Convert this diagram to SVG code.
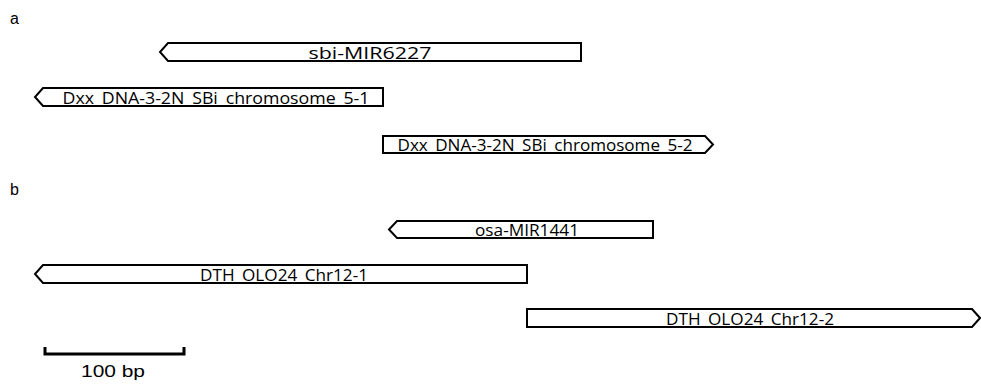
<svg xmlns="http://www.w3.org/2000/svg" width="981" height="385" viewBox="0 0 981 385">
<style>
.box{fill:#fff;stroke:#000;stroke-width:2}
.lbl{font-family:"Open Sans","Liberation Sans",sans-serif;font-size:17px;fill:#000;text-anchor:middle}
.pl{font-family:"Liberation Sans",Arial,sans-serif;font-size:16px;fill:#000}
</style>
<rect width="981" height="385" fill="#fff"/>
<text class="pl" x="10" y="24">a</text>
<text class="pl" x="10" y="195">b</text>
<g id="sbi-MIR6227">
<polygon class="box" points="168,43 581,43 581,61 168,61 160,52"/>
<text class="lbl" x="370" y="59" textLength="123" lengthAdjust="spacingAndGlyphs">sbi-MIR6227</text>
</g>
<g id="dxx-5-1">
<polygon class="box" points="43,88 383,88 383,106 43,106 35,97"/>
<text class="lbl" x="216" y="104" textLength="307" lengthAdjust="spacingAndGlyphs">Dxx_DNA-3-2N_SBi_chromosome_5-1</text>
</g>
<g id="dxx-5-2">
<polygon class="box" points="383,136 705,136 713,144.5 705,153 383,153"/>
<text class="lbl" x="545" y="151" textLength="295" lengthAdjust="spacingAndGlyphs">Dxx_DNA-3-2N_SBi_chromosome_5-2</text>
</g>
<g id="osa-MIR1441">
<polygon class="box" points="397,221 653,221 653,238 397,238 389,229.5"/>
<text class="lbl" x="527" y="236" textLength="104" lengthAdjust="spacingAndGlyphs">osa-MIR1441</text>
</g>
<g id="dth-1">
<polygon class="box" points="43,265 527,265 527,283 43,283 35,274"/>
<text class="lbl" x="284" y="281" textLength="168" lengthAdjust="spacingAndGlyphs">DTH_OLO24_Chr12-1</text>
</g>
<g id="dth-2">
<polygon class="box" points="527,309 972,309 980,318 972,327 527,327"/>
<text class="lbl" x="750" y="325" textLength="168" lengthAdjust="spacingAndGlyphs">DTH_OLO24_Chr12-2</text>
</g>
<g id="scale">
<path d="M45,347 V354 H184 V347" fill="none" stroke="#000" stroke-width="3"/>
<text class="pl" x="113" y="377" text-anchor="middle" font-size="17" textLength="64" lengthAdjust="spacingAndGlyphs">100 bp</text>
</g>
</svg>
